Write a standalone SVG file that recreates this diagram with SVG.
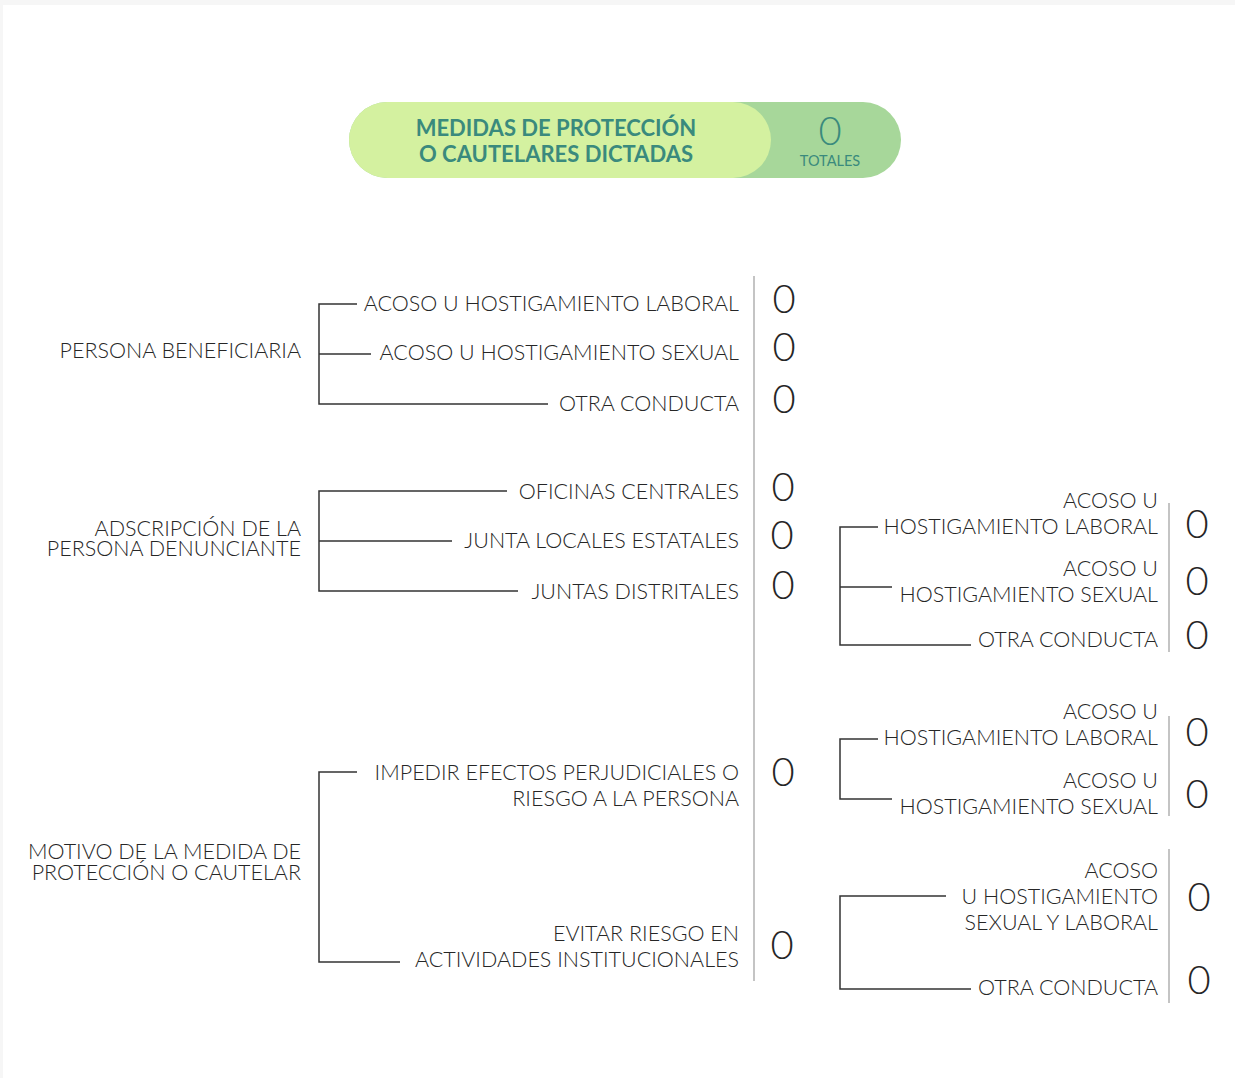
<svg xmlns="http://www.w3.org/2000/svg" width="1235" height="1078" viewBox="0 0 1235 1078">
<style>
.t{font-family:Lato,"Open Sans","Liberation Sans",sans-serif;font-weight:300;font-size:21.5px;fill:#262626;text-anchor:end}
.z{font-family:Lato,"Open Sans","Liberation Sans",sans-serif;font-weight:300;font-size:40px;fill:#262626;text-anchor:middle}
.h{font-family:Lato,"Open Sans","Liberation Sans",sans-serif;font-weight:700;font-size:22px;fill:#3a8a7d;text-anchor:middle}
.br{fill:none;stroke:#333;stroke-width:1.5}
.sep{stroke:#c4c4c4;stroke-width:2}
</style>
<rect width="1235" height="1078" fill="#f6f6f6"/>
<rect x="3" y="5" width="1232" height="1073" fill="#fff"/>

<g id="header">
<rect x="349" y="102" width="552" height="76" rx="38" fill="#a7d79a"/>
<rect x="349" y="102" width="422" height="76" rx="38" fill="#d4f1a0"/>
<text class="h" x="556" y="136">MEDIDAS DE PROTECCIÓN</text>
<text class="h" x="556" y="162">O CAUTELARES DICTADAS</text>
<text class="z" x="830" y="145" style="fill:#3a8a7d;font-size:40px;font-weight:300">0</text>
<text class="h" x="830" y="166" style="font-size:14.5px;font-weight:400">TOTALES</text>
</g>

<g id="connectors">
<path class="br" d="M357,304 H319 V404 H548 M319,354 H371"/>
<path class="br" d="M507,491 H319 V591 H518 M319,541 H452"/>
<path class="br" d="M357,772 H319 V962 H400"/>
<path class="br" d="M878,527 H840 V645 H971 M840,587 H892"/>
<path class="br" d="M878,739 H840 V799 H892"/>
<path class="br" d="M946,896 H840 V989 H971"/>
<line class="sep" x1="754" y1="276" x2="754" y2="981"/>
<line class="sep" x1="1169" y1="503" x2="1169" y2="652"/>
<line class="sep" x1="1169" y1="716" x2="1169" y2="816"/>
<line class="sep" x1="1169" y1="849" x2="1169" y2="1003"/>
</g>

<g id="persona-beneficiaria">
<text class="t" x="301" y="358">PERSONA BENEFICIARIA</text>
</g>
<g id="pb-laboral"><text class="t" x="739" y="311">ACOSO U HOSTIGAMIENTO LABORAL</text><text class="z" x="784" y="313">0</text></g>
<g id="pb-sexual"><text class="t" x="739" y="360">ACOSO U HOSTIGAMIENTO SEXUAL</text><text class="z" x="784" y="361">0</text></g>
<g id="pb-otra"><text class="t" x="739" y="411">OTRA CONDUCTA</text><text class="z" x="784" y="413">0</text></g>

<g id="adscripcion">
<text class="t" x="301" y="536">ADSCRIPCIÓN DE LA</text>
<text class="t" x="301" y="556">PERSONA DENUNCIANTE</text>
</g>
<g id="ad-oficinas"><text class="t" x="739" y="499">OFICINAS CENTRALES</text><text class="z" x="783" y="501">0</text></g>
<g id="ad-juntas-locales"><text class="t" x="739" y="548">JUNTA LOCALES ESTATALES</text><text class="z" x="782" y="549">0</text></g>
<g id="ad-juntas-distritales"><text class="t" x="739" y="599">JUNTAS DISTRITALES</text><text class="z" x="783" y="599">0</text></g>

<g id="motivo">
<text class="t" x="301" y="859">MOTIVO DE LA MEDIDA DE</text>
<text class="t" x="301" y="880">PROTECCIÓN O CAUTELAR</text>
</g>
<g id="mo-impedir"><text class="t" x="739" y="780">IMPEDIR EFECTOS PERJUDICIALES O</text><text class="t" x="739" y="806">RIESGO A LA PERSONA</text><text class="z" x="783" y="786">0</text></g>
<g id="mo-evitar"><text class="t" x="739" y="941">EVITAR RIESGO EN</text><text class="t" x="739" y="967">ACTIVIDADES INSTITUCIONALES</text><text class="z" x="782" y="959">0</text></g>

<g id="ad-r-laboral"><text class="t" x="1158" y="508">ACOSO U</text><text class="t" x="1158" y="534">HOSTIGAMIENTO LABORAL</text><text class="z" x="1197" y="538">0</text></g>
<g id="ad-r-sexual"><text class="t" x="1158" y="576">ACOSO U</text><text class="t" x="1158" y="602">HOSTIGAMIENTO SEXUAL</text><text class="z" x="1197" y="595">0</text></g>
<g id="ad-r-otra"><text class="t" x="1158" y="647">OTRA CONDUCTA</text><text class="z" x="1197" y="649">0</text></g>

<g id="mo-r-laboral"><text class="t" x="1158" y="719">ACOSO U</text><text class="t" x="1158" y="745">HOSTIGAMIENTO LABORAL</text><text class="z" x="1197" y="746">0</text></g>
<g id="mo-r-sexual"><text class="t" x="1158" y="788">ACOSO U</text><text class="t" x="1158" y="814">HOSTIGAMIENTO SEXUAL</text><text class="z" x="1197" y="808">0</text></g>

<g id="mo-r-ambos"><text class="t" x="1158" y="878">ACOSO</text><text class="t" x="1158" y="904">U HOSTIGAMIENTO</text><text class="t" x="1158" y="930">SEXUAL Y LABORAL</text><text class="z" x="1199" y="911">0</text></g>
<g id="mo-r-otra"><text class="t" x="1158" y="995">OTRA CONDUCTA</text><text class="z" x="1199" y="994">0</text></g>
</svg>
